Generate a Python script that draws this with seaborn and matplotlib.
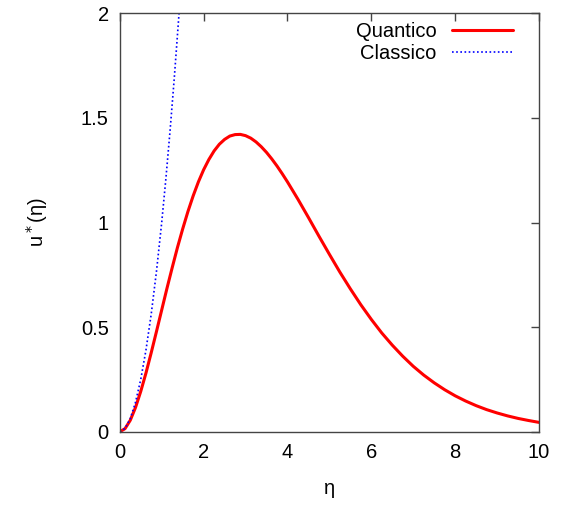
import matplotlib
matplotlib.use("Agg")
import matplotlib.pyplot as plt
import seaborn as sns
import pandas as pd

# valori
eta_q = [0.0, 0.125, 0.25, 0.375, 0.5, 0.625, 0.75, 0.875, 1.0, 1.125, 1.25,
         1.375, 1.5, 1.625, 1.75, 1.875, 2.0, 2.125, 2.25, 2.375, 2.5, 2.625,
         2.75, 2.875, 3.0, 3.125, 3.25, 3.375, 3.5, 3.625, 3.75, 3.875, 4.0,
         4.25, 4.5, 4.75, 5.0, 5.25, 5.5, 5.75, 6.0, 6.25, 6.5, 6.75, 7.0,
         7.25, 7.5, 7.75, 8.0, 8.25, 8.5, 8.75, 9.0, 9.25, 9.5, 9.75, 10.0]
u_q = [0.0, 0.015, 0.055, 0.116, 0.193, 0.281, 0.378, 0.479, 0.582, 0.685,
       0.784, 0.880, 0.969, 1.052, 1.127, 1.194, 1.252, 1.301, 1.342, 1.374,
       1.397, 1.413, 1.420, 1.421, 1.415, 1.403, 1.385, 1.362, 1.335, 1.304,
       1.270, 1.233, 1.194, 1.111, 1.024, 0.935, 0.848, 0.763, 0.683, 0.607,
       0.537, 0.472, 0.414, 0.361, 0.313, 0.271, 0.234, 0.201, 0.172, 0.147,
       0.125, 0.106, 0.090, 0.076, 0.064, 0.054, 0.045]

eta_c = [0.0, 0.125, 0.25, 0.375, 0.5, 0.625, 0.75, 0.875, 1.0, 1.1, 1.2,
         1.3, 1.414]
u_c = [0.0, 0.016, 0.0625, 0.141, 0.25, 0.391, 0.5625, 0.766, 1.0, 1.21,
       1.44, 1.69, 2.0]

df_q = pd.DataFrame({"eta": eta_q, "u": u_q})
df_c = pd.DataFrame({"eta": eta_c, "u": u_c})

sns.set_style("white")
plt.rcParams['font.family'] = ['Liberation Sans', 'DejaVu Sans']
plt.rcParams['text.color'] = 'black'

fig = plt.figure(figsize=(5.65, 5.08), dpi=100)
ax = fig.add_axes([0.212, 0.15, 0.742, 0.824])

sns.lineplot(data=df_q, x="eta", y="u", ax=ax, color="red", linewidth=2.2,
             label="Quantico")
sns.lineplot(data=df_c, x="eta", y="u", ax=ax, color="blue", linewidth=1.2,
             linestyle=(0, (1, 1.5)), label="Classico")

ax.set_xlim(0, 10)
ax.set_ylim(0, 2)
ax.set_xticks([0, 2, 4, 6, 8, 10])
ax.set_yticks([0, 0.5, 1, 1.5, 2])
ax.set_yticklabels(["0", "0.5", "1", "1.5", "2"])
ax.tick_params(direction="in", length=6, width=1, labelsize=14.5,
               color="#444444", labelcolor="black", top=True, right=True, pad=8)
for s in ax.spines.values():
    s.set_color("#444444")
    s.set_linewidth(1)

ax.set_xlabel("η", fontsize=14.5, labelpad=12, color="black")
ax.set_ylabel("u$^*$(η)", fontsize=14.5, labelpad=22, color="black")

leg = ax.legend(loc="upper right", frameon=False, fontsize=14.5,
                markerfirst=False, handlelength=3.0, labelspacing=0.15,
                borderaxespad=0.9, bbox_to_anchor=(1.0, 1.042))
for t in leg.get_texts():
    t.set_ha("right")

fig.savefig("out.png", dpi=100)
